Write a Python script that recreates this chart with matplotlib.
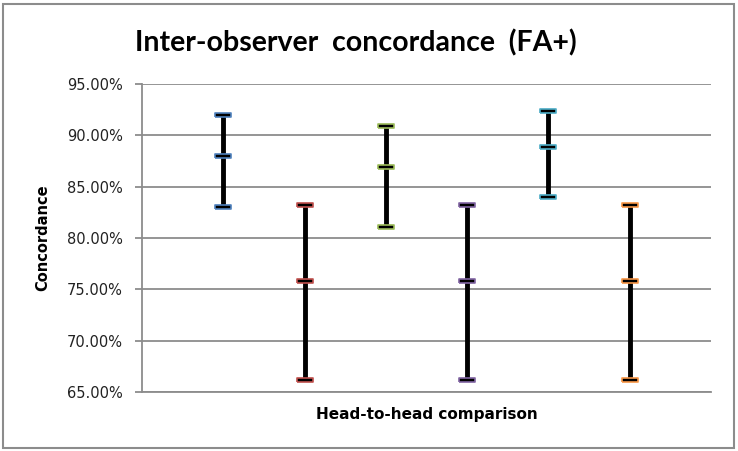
import matplotlib
matplotlib.use("Agg")
import matplotlib.pyplot as plt
from matplotlib.patches import Rectangle
from matplotlib.ticker import FuncFormatter

# six head-to-head comparisons: high / mid / low concordance (%)
comparisons = [1, 2, 3, 4, 5, 6]
high = [92.0, 83.2, 90.9, 83.2, 92.4, 83.2]
mid = [88.0, 75.8, 86.9, 75.8, 88.9, 75.8]
low = [83.0, 66.2, 81.1, 66.2, 84.0, 66.2]
colors = ["#4F81BD", "#C0504D", "#9BBB59", "#8064A2", "#4BACC6", "#F79646"]
yticks = [65, 70, 75, 80, 85, 90, 95]

GRID = "#8c8c8c"
cap = [(-1, -0.2), (1, -0.2), (1, 0.2), (-1, 0.2), (-1, -0.2)]

fig = plt.figure(figsize=(7.38, 4.51), dpi=100)
ax = fig.add_axes([142 / 738, 1 - 392 / 451, (711 - 142) / 738, (392 - 84) / 451])

for x, h, m, l, c in zip(comparisons, high, mid, low, colors):
    ax.plot([x, x], [l, h], color="black", lw=3.5, solid_capstyle="butt", zorder=3)
    ax.plot([x, x, x], [h, m, l], ls="none", marker=cap, ms=12,
            mfc="black", mec=c, mew=1.2, zorder=4)

ax.set_xlim(0, 7)
ax.set_ylim(65, 95)
ax.set_yticks(yticks)
ax.yaxis.set_major_formatter(FuncFormatter(lambda v, _: f"{v:.2f}%"))
ax.set_xticks([])
ax.grid(axis="y", color=GRID, lw=1.3)
ax.set_axisbelow(True)
for s in ["top", "right"]:
    ax.spines[s].set_visible(False)
for s in ["left", "bottom"]:
    ax.spines[s].set_color(GRID)
    ax.spines[s].set_linewidth(1.3)
ax.tick_params(axis="y", length=5, width=1.3, color=GRID, pad=9,
               labelsize=10.5, labelcolor="#222222")

ax.set_ylabel("Concordance", fontsize=10.5, fontweight="bold", labelpad=12)
ax.set_xlabel("Head-to-head comparison", fontsize=11, fontweight="bold", labelpad=11)

fig.text(356 / 738, 1 - 43 / 451, "Inter-observer  concordance  (FA+)",
         ha="center", va="center", fontsize=20.5, fontweight="bold", family="Lato")

fig.patches.append(Rectangle((3 / 738, 3 / 451), 731 / 738, 444 / 451,
                             transform=fig.transFigure, fill=False,
                             edgecolor="#8c8c8c", lw=1.5))

fig.savefig("out.png", dpi=100)
